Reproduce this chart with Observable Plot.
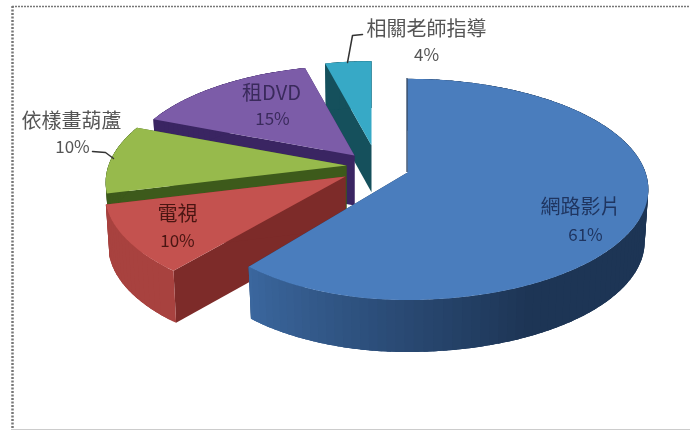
<!DOCTYPE html>
<html>
<head>
<meta charset="utf-8">
<style>html,body{margin:0;padding:0;background:#fff}svg{display:block;filter:blur(0.5px)}</style>
<script src="https://cdn.jsdelivr.net/npm/d3@7"></script>
<script src="https://cdn.jsdelivr.net/npm/@observablehq/plot@0.6"></script>
</head>
<body>
<div id="chart"></div>
<script>
// Data
const names = ["網路影片", "電視", "依樣畫葫蘆", "租DVD", "相關老師指導"];
const shares = [61, 10, 10, 15, 4];
const percentLabels = ["61%", "10%", "10%", "15%", "4%"];

// Styling & layout of the exploded 3D pie
const topColors = ["#4a7dbd", "#c4524f", "#97ba4c", "#7c5ca8", "#37a9c6"];
const faceColors = ["#1d3658", "#7d2b29", "#3d5a1b", "#3a2562", "#15505c"];
const rimStart = ["#3d6aa3", "#a8423f", "#3d5a1b", "#3a2562", "#15505c"];
const rimEnd = ["#1d3555", "#a8423f", "#3d5a1b", "#3a2562", "#15505c"];
const apexX = [407, 345, 346, 354, 371];
const apexY = [172, 176, 165, 155, 145];
const scales3d = [1, 1, 1, 0.96, 0.9];
const leftScales = [0.924, 1, 1, 1, 1];
const nameX = [580, 177, 71, 271, 426];
const nameY = [207, 214, 121, 93, 29];
const pctX = [585, 177, 72, 272, 426];
const pctY = [235, 241, 147, 119, 55];
const textColors = ["#1f3560", "#4a1512", "#555555", "#3a2a5c", "#555555"];
const leader1X = [92, 105, 113], leader1Y = [151, 152, 158];
const leader2X = [362, 352, 347], leader2Y = [34, 35, 62];
const paintOrder = [4, 3, 2, 1, 0];
const RX = 238, RY = 108, PERSP = 0.153, DEPTH = 52;

const total = d3.sum(shares);
const cum = d3.cumsum(shares);
const project = (i, deg, down) => {
  const a = deg * Math.PI / 180, u = Math.sin(a), v = -Math.cos(a);
  const w = 1 - PERSP * v, s = scales3d[i];
  const k = down ? 0.985 : 1;
  const ls = u < 0 ? leftScales[i] : 1;
  return [apexX[i] + k * ls * s * RX * u / w, apexY[i] + s * RY * v / w + (down ? s * DEPTH : 0)];
};
const polys = [];
const addPoly = (id, color, pts) => pts.forEach(p => polys.push({id, color, x: p[0], y: p[1]}));
for (const i of paintOrder) {
  const start = (cum[i] - shares[i]) / total * 360, end = cum[i] / total * 360;
  const top0 = [apexX[i], apexY[i]];
  const bot0 = [apexX[i], apexY[i] + scales3d[i] * DEPTH];
  addPoly(`f${i}a`, faceColors[i], [top0, project(i, start, false), project(i, start, true), bot0]);
  addPoly(`f${i}b`, faceColors[i], [top0, project(i, end, false), project(i, end, true), bot0]);
  const n = Math.ceil((end - start) / 2);
  const color = d3.interpolateRgb(rimEnd[i], rimStart[i]);
  for (let j = n - 1; j >= 0; j--) {
    const a0 = start + (end - start) * j / n, a1 = Math.min(end, start + (end - start) * (j + 2.5) / n);
    const t = i === 0 ? Math.max(0, Math.min(1, (a0 - 150) / 70)) : 0;
    const quad = [];
    for (let m = 0; m <= 4; m++) quad.push(project(i, a0 + (a1 - a0) * m / 4, false));
    for (let m = 4; m >= 0; m--) quad.push(project(i, a0 + (a1 - a0) * m / 4, true));
    addPoly(`r${i}_${j}`, color(t), quad);
  }
  const arc = [top0];
  for (let j = 0; j <= n; j++) arc.push(project(i, start + (end - start) * j / n, false));
  addPoly(`t${i}`, topColors[i], arc);
}
const idx = d3.range(names.length);
const chart = Plot.plot({
  width: 690, height: 430, margin: 0,
  style: {background: "#fff"},
  x: {domain: [0, 690], range: [0, 690], axis: null},
  y: {domain: [0, 430], range: [0, 430], axis: null},
  marks: [
    Plot.ruleX([12], {y1: 6, y2: 430, stroke: "#777", strokeWidth: 2.5, strokeDasharray: "2 1.5"}),
    Plot.ruleY([6], {x1: 12, x2: 690, stroke: "#777", strokeWidth: 1.5, strokeDasharray: "2 1"}),
    Plot.ruleY([429], {x1: 12, x2: 690, stroke: "#ccc", strokeWidth: 1}),
    Plot.line(polys, {x: "x", y: "y", z: "id", fill: "color", stroke: "none"}),
    Plot.ruleX([1], {x: () => 406.5, y1: 78, y2: 172, stroke: "#1d3658", strokeWidth: 1.2}),
    Plot.line(leader1X.map((x, i) => ({x, y: leader1Y[i]})), {x: "x", y: "y", stroke: "#333", strokeWidth: 1.5}),
    Plot.line(leader2X.map((x, i) => ({x, y: leader2Y[i]})), {x: "x", y: "y", stroke: "#333", strokeWidth: 1.5}),
    Plot.text(idx, {x: i => nameX[i], y: i => nameY[i], text: i => names[i], fill: i => textColors[i], fontSize: 20, fontFamily: "'Noto Sans CJK TC'", textAnchor: "middle"}),
    Plot.text(idx, {x: i => pctX[i], y: i => pctY[i], text: i => percentLabels[i], fill: i => textColors[i], fontSize: 17, fontFamily: "'Noto Sans CJK TC'", textAnchor: "middle"})
  ]
});
document.getElementById("chart").append(chart);
</script>
</body>
</html>
